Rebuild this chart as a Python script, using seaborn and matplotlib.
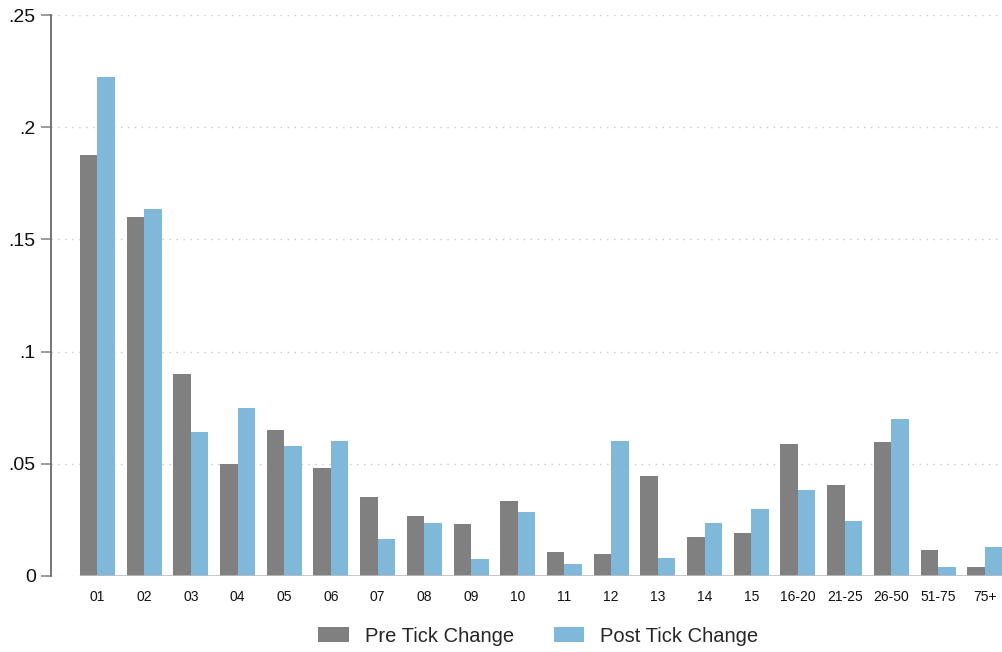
import matplotlib
matplotlib.use("Agg")
import matplotlib.pyplot as plt
import seaborn as sns
import pandas as pd
from matplotlib.patches import Patch

categories = ["01", "02", "03", "04", "05", "06", "07", "08", "09", "10",
              "11", "12", "13", "14", "15", "16-20", "21-25", "26-50", "51-75", "75+"]
pre_values = [0.1876, 0.160, 0.090, 0.050, 0.065, 0.048, 0.035, 0.0266, 0.023, 0.0335,
              0.0108, 0.010, 0.0447, 0.0172, 0.019, 0.0587, 0.0405, 0.0598, 0.0116, 0.0039]
post_values = [0.2224, 0.1635, 0.064, 0.0747, 0.058, 0.060, 0.0165, 0.0235, 0.0076, 0.0284,
               0.0055, 0.060, 0.0082, 0.0238, 0.030, 0.0383, 0.0245, 0.070, 0.0039, 0.013]
series_names = ["Pre Tick Change", "Post Tick Change"]
colors = ["#808080", "#80b8da"]
y_ticks = [0, 0.05, 0.10, 0.15, 0.20, 0.25]
y_tick_labels = ["0", ".05", ".1", ".15", ".2", ".25"]

df = pd.DataFrame({
    "bin": categories * 2,
    "share": pre_values + post_values,
    "series": [series_names[0]] * len(categories) + [series_names[1]] * len(categories),
})

sns.set_style("white")
plt.rcParams["font.family"] = ["Liberation Sans", "DejaVu Sans"]

fig = plt.figure(figsize=(10.02, 6.52), dpi=100)
W, H = 1002, 652
ax = fig.add_axes([51 / W, 1 - 576 / H, (1002 - 51) / W, (576 - 15) / H])

sns.barplot(data=df, x="bin", y="share", hue="series", order=categories,
            hue_order=series_names, palette=colors, width=0.75, gap=0,
            saturation=1, edgecolor="none", linewidth=0, ax=ax, legend=False,
            errorbar=None)

ax.set_xlim(-0.995, 19.37)
ax.set_ylim(0, 0.25)
ax.set_yticks(y_ticks)
ax.set_yticklabels(y_tick_labels, fontsize=14)
ax.tick_params(axis="y", which="both", left=True, length=7, width=1.2, color="#8a8a8a",
               pad=4, labelcolor="#111111")
ax.tick_params(axis="x", length=0, labelsize=10, pad=10, labelcolor="#111111")
ax.set_xlabel("")
ax.set_ylabel("")

for yv in y_ticks:
    ax.axhline(yv, color="#c8c8c8", linestyle=(0, (1, 4)), linewidth=1, zorder=0)
ax.hlines(0, -0.375, 19.375, color="#bdbdbd", linewidth=1.2, zorder=3)

for s in ["top", "right", "bottom"]:
    ax.spines[s].set_visible(False)
ax.spines["left"].set_color("#6a6a6a")
ax.spines["left"].set_linewidth(1.3)

handles = [Patch(facecolor=c, edgecolor="none") for c in colors]
fig.legend(handles, series_names, loc="center", bbox_to_anchor=(538.5 / W, 1 - 636 / H),
           ncol=2, frameon=False, fontsize=14.5, handlelength=1.5, handleheight=0.8,
           columnspacing=2.0, handletextpad=0.8)

fig.savefig("out.png", dpi=100)
